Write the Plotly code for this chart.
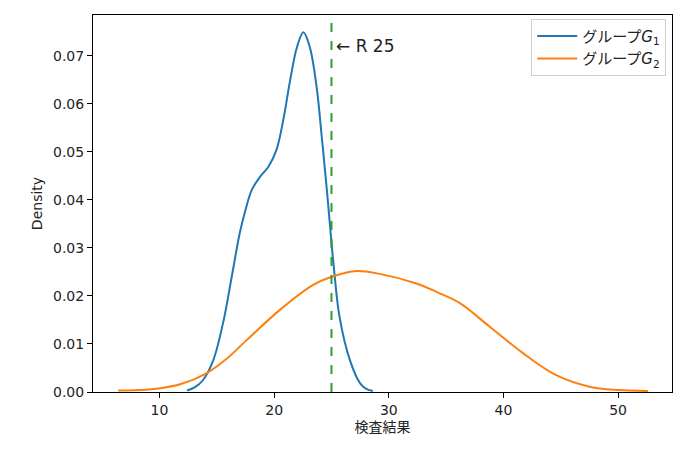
import plotly.graph_objects as go

# 読み取った密度曲線の値 (グループG1)
g1_x = [12.4, 13.1, 13.8, 14.7, 15.6, 16.3, 17.0, 17.5, 18.05, 18.8, 19.5, 20.2, 20.8, 21.4, 22.0, 22.55,
        23.1, 23.7, 24.15, 24.6, 25.2, 25.7, 26.6, 27.5, 28.0, 28.6]
g1_y = [0.0003, 0.0010, 0.0025, 0.0067, 0.0150, 0.0240, 0.0331, 0.0379, 0.0421, 0.0449, 0.0469, 0.0504, 0.0567,
        0.0650, 0.0719, 0.0749, 0.0719, 0.0636, 0.0532, 0.0420, 0.0261, 0.0157, 0.0067, 0.0018, 0.0007, 0.0002]

# グループG2
g2_x = [6.4, 8.3, 10.1, 11.8, 14.1, 15.8, 17.6, 20.5, 23.4, 24.9, 27.2, 29.2, 32.4, 34.3, 36.2, 38.8, 41.7,
        44.6, 47.5, 50.0, 52.6]
g2_y = [0.0003, 0.0004, 0.0008, 0.0016, 0.0039, 0.0068, 0.0108, 0.0171, 0.0223, 0.0239, 0.0252, 0.0246, 0.0226,
        0.0207, 0.0185, 0.0136, 0.0081, 0.0035, 0.0011, 0.0004, 0.0002]

r_value = 25
x_ticks = [10, 20, 30, 40, 50]
y_ticks = [0.00, 0.01, 0.02, 0.03, 0.04, 0.05, 0.06, 0.07]

fuente = "DejaVu Sans, Noto Sans CJK JP"

fig = go.Figure()
fig.add_trace(go.Scatter(x=g1_x, y=g1_y, mode="lines", name="グループ<i>G</i><sub>1</sub>",
                         line=dict(color="#1f77b4", width=2, shape="spline", smoothing=1.0)))
fig.add_trace(go.Scatter(x=g2_x, y=g2_y, mode="lines", name="グループ<i>G</i><sub>2</sub>",
                         line=dict(color="#ff7f0e", width=2, shape="spline", smoothing=1.0)))

# 基準線 R
fig.add_vline(x=r_value, line=dict(color="#2ca02c", width=2, dash="dash"))
fig.add_annotation(x=r_value, y=0.0721, text=f"← R {r_value}", showarrow=False,
                   xanchor="left", xshift=3, font=dict(size=17, color="#222"))

eje = dict(showline=True, linecolor="black", linewidth=1, mirror=True, ticks="outside",
           ticklen=5, tickcolor="black", showgrid=False, zeroline=False,
           tickfont=dict(size=14, color="#222"))

# la página tiene 8px de margen en body, se compensa
fig.update_layout(
    width=681, height=447,
    margin=dict(l=85, r=17, t=7, b=63),
    paper_bgcolor="white", plot_bgcolor="white",
    font=dict(family=fuente, color="#222"),
    xaxis=dict(range=[4.2, 54.7], tickvals=x_ticks, title=dict(text="検査結果", font=dict(size=14), standoff=5), **eje),
    yaxis=dict(range=[0, 0.0785], tickvals=y_ticks, tickformat=".2f", title=dict(text="Density", font=dict(size=14), standoff=7), **eje),
    legend=dict(x=0.99, y=0.99, xanchor="right", yanchor="top", bordercolor="#d0d0d0", borderwidth=1,
                bgcolor="rgba(255,255,255,0.8)", font=dict(size=15), itemwidth=40),
)

fig.write_html("out.html")
